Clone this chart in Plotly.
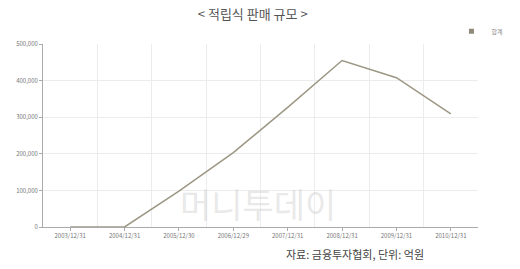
import plotly.graph_objects as go

categories = ["2003/12/31", "2004/12/31", "2005/12/30", "2006/12/29",
              "2007/12/31", "2008/12/31", "2009/12/31", "2010/12/31"]
values = [0, 0, 98000, 203000, 327000, 455000, 408000, 309000]
series_name = "합계"
y_ticks = [0, 100000, 200000, 300000, 400000, 500000]
y_labels = ["0", "100,000", "200,000", "300,000", "400,000", "500,000"]

KR = "Noto Sans CJK KR"
xs = list(range(len(categories)))

fig = go.Figure()
fig.add_trace(go.Scatter(
    x=xs, y=values, mode="lines", showlegend=False,
    line=dict(color="#9c9784", width=1.5),
))
fig.add_trace(go.Scatter(
    x=[None], y=[None], mode="markers", name=series_name,
    marker=dict(symbol="square", size=5, color="#8f8a78"),
))

fig.update_layout(
    width=520, height=269,
    margin=dict(l=43, r=33, t=44, b=42),
    paper_bgcolor="white", plot_bgcolor="white",
    font=dict(family=KR, color="#666"),
    title=dict(text="&lt; 적립식 판매 규모 &gt;", x=0.486, xanchor="center",
               y=0.948, yanchor="middle",
               font=dict(family=KR, size=13, color="#555")),
    showlegend=True,
    legend=dict(x=1.07, xanchor="right", y=1.07, yanchor="middle",
                font=dict(family=KR, size=6, color="#888"),
                bgcolor="rgba(0,0,0,0)", itemwidth=30),
    xaxis=dict(
        range=[-0.5, len(categories) - 0.5],
        tickvals=xs, ticktext=categories,
        tickfont=dict(size=6, color="#777"),
        showgrid=False, zeroline=False,
        showline=True, linecolor="#aaa", linewidth=1,
        ticks="outside", ticklen=3, tickcolor="#aaa",
        minor=dict(tickvals=[i + 0.5 for i in xs[:-1]], showgrid=True,
                   gridcolor="#ececec", gridwidth=1, ticks=""),
        fixedrange=True,
    ),
    yaxis=dict(
        range=[0, 500000],
        tickvals=y_ticks, ticktext=y_labels,
        tickfont=dict(size=6, color="#777"),
        showgrid=True, gridcolor="#ececec", gridwidth=1,
        zeroline=False,
        showline=True, linecolor="#aaa", linewidth=1,
        ticks="outside", ticklen=3, tickcolor="#aaa",
        fixedrange=True,
    ),
)

fig.add_annotation(text="머니투데이", xref="paper", yref="paper",
                   x=0.495, y=0.13, yanchor="middle", showarrow=False,
                   font=dict(family=KR, size=34, color="rgba(205,205,205,0.45)"))
fig.add_annotation(text="자료: 금융투자협회, 단위: 억원", xref="paper", yref="paper",
                   x=0.555, xanchor="left", y=-0.15, yanchor="middle",
                   showarrow=False,
                   font=dict(family=KR, size=11, color="#444"))

fig.write_html("out.html", config={"displayModeBar": False})
